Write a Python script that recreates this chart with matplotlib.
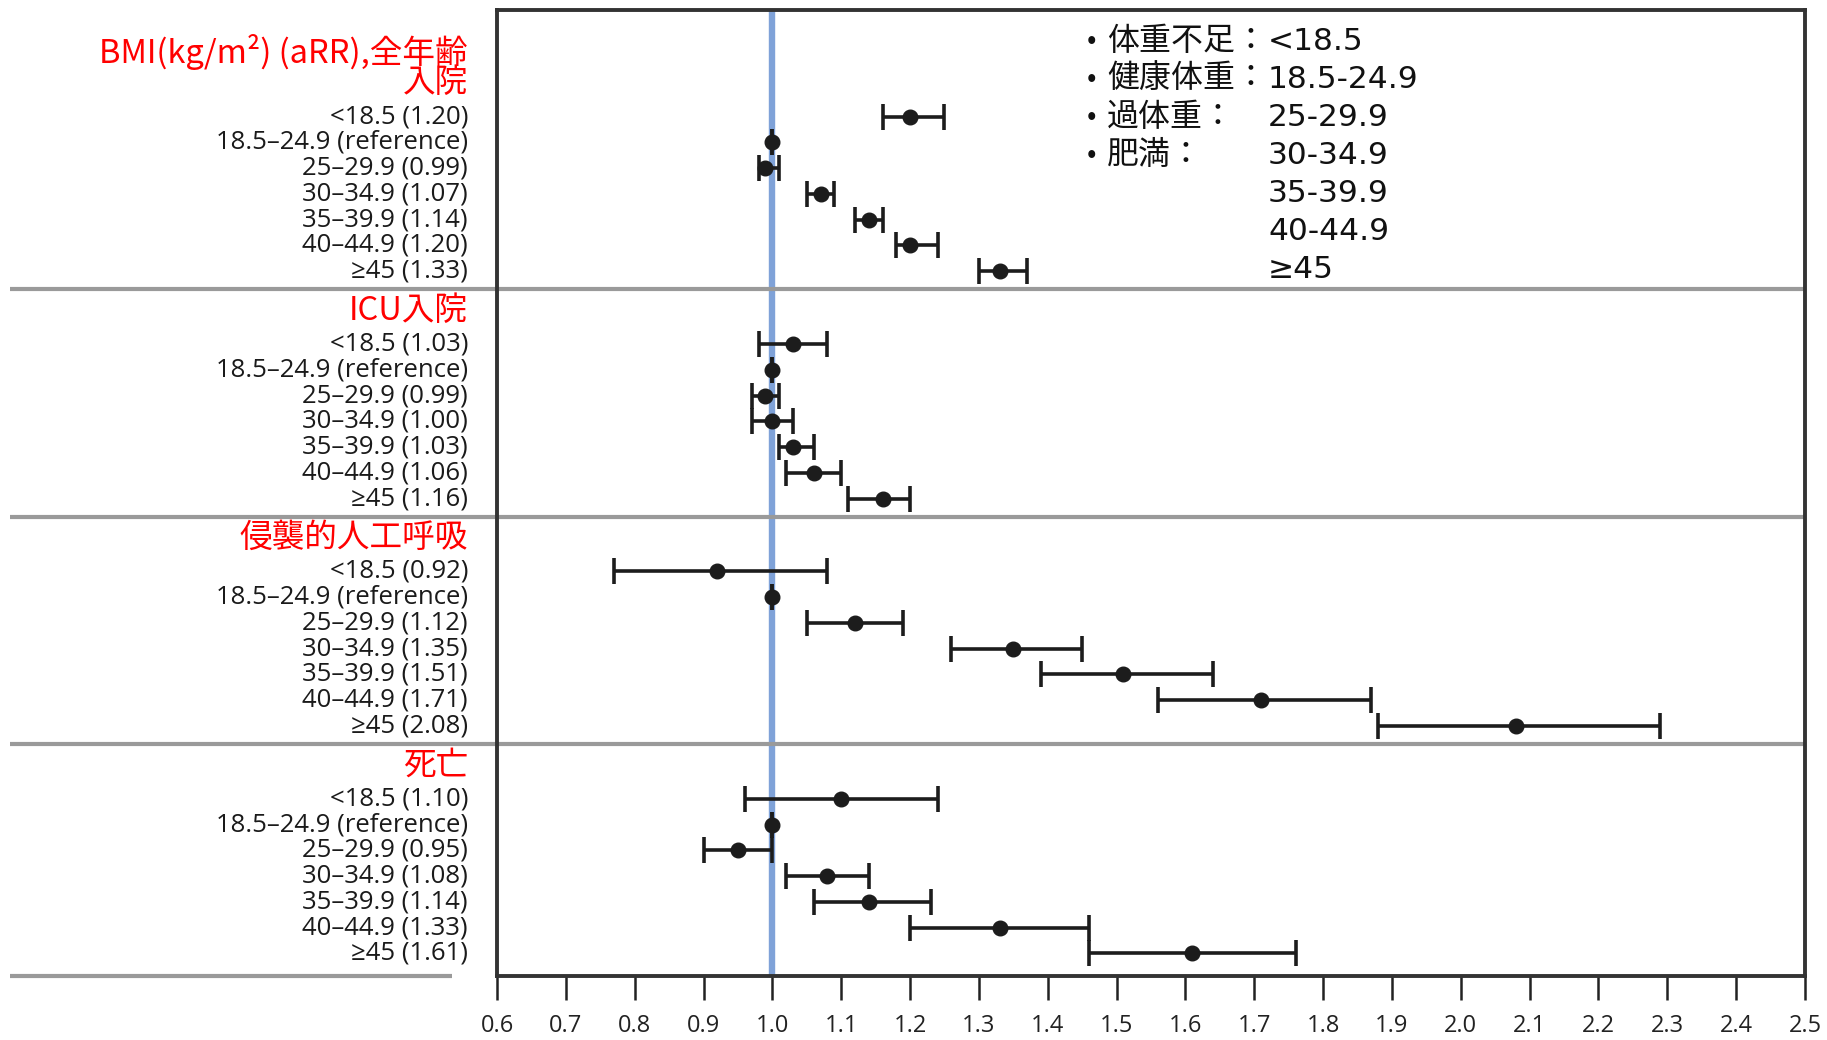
import numpy as np
import matplotlib
matplotlib.use("Agg")
import matplotlib.pyplot as plt
import matplotlib.transforms as mtrans

# ---- data -------------------------------------------------------------
bmi_groups = ["<18.5", "18.5–24.9", "25–29.9", "30–34.9", "35–39.9", "40–44.9", "≥45"]
reference_index = 1

outcome_titles = [["BMI(kg/m²) (aRR),全年齢", "入院"], ["ICU入院"], ["侵襲的人工呼吸"], ["死亡"]]

hosp_rr = [1.20, 1.00, 0.99, 1.07, 1.14, 1.20, 1.33]
hosp_lo = [1.16, 1.00, 0.98, 1.05, 1.12, 1.18, 1.30]
hosp_hi = [1.25, 1.00, 1.01, 1.09, 1.16, 1.24, 1.37]

icu_rr = [1.03, 1.00, 0.99, 1.00, 1.03, 1.06, 1.16]
icu_lo = [0.98, 1.00, 0.97, 0.97, 1.01, 1.02, 1.11]
icu_hi = [1.08, 1.00, 1.01, 1.03, 1.06, 1.10, 1.20]

imv_rr = [0.92, 1.00, 1.12, 1.35, 1.51, 1.71, 2.08]
imv_lo = [0.77, 1.00, 1.05, 1.26, 1.39, 1.56, 1.88]
imv_hi = [1.08, 1.00, 1.19, 1.45, 1.64, 1.87, 2.29]

death_rr = [1.10, 1.00, 0.95, 1.08, 1.14, 1.33, 1.61]
death_lo = [0.96, 1.00, 0.90, 1.02, 1.06, 1.20, 1.46]
death_hi = [1.24, 1.00, 1.00, 1.14, 1.23, 1.46, 1.76]

x_ticks = [0.6, 0.7, 0.8, 0.9, 1.0, 1.1, 1.2, 1.3, 1.4, 1.5, 1.6, 1.7, 1.8, 1.9,
           2.0, 2.1, 2.2, 2.3, 2.4, 2.5]

legend_names = ["体重不足", "健康体重", "過体重", "肥満"]
legend_ranges = ["<18.5", "18.5-24.9", "25-29.9", "30-34.9", "35-39.9", "40-44.9", "≥45"]

# ---- fonts ------------------------------------------------------------
cjk = ["Noto Sans CJK JP", "DejaVu Sans"]
label_font = ["Open Sans", "DejaVu Sans"]
number_font = ["DejaVu Sans"]

# ---- layout -----------------------------------------------------------
W, H = 1827, 1040
fig = plt.figure(figsize=(W / 100, H / 100), dpi=100)
ax = fig.add_axes([497 / W, 1 - 976 / H, (1805 - 497) / W, (976 - 10) / H])

y_bottom = 37.51
block_pitch = 8.83
first_row0 = 4.14
label_x = 468 / W

blend = mtrans.blended_transform_factory(fig.transFigure, ax.transData)

ax.axvline(1.0, color="#7fa2d8", lw=4.6, zorder=1)

sections = [
    (hosp_rr, hosp_lo, hosp_hi),
    (icu_rr, icu_lo, icu_hi),
    (imv_rr, imv_lo, imv_hi),
    (death_rr, death_lo, death_hi),
]

for k, ((rr, lo, hi), title) in enumerate(zip(sections, outcome_titles)):
    first = first_row0 + k * block_pitch
    ys = first + np.arange(len(bmi_groups))
    rr = np.asarray(rr)
    err = [rr - np.asarray(lo), np.asarray(hi) - rr]
    ax.errorbar(rr, ys, xerr=err, fmt="o", color="#1c1c1c", ms=10.5,
                elinewidth=2.6, capsize=9.5, capthick=2.6, zorder=3)

    # row labels
    for i, (g, v, y) in enumerate(zip(bmi_groups, rr, ys)):
        txt = f"{g} (reference)" if i == reference_index else f"{g} ({v:.2f})"
        ax.text(label_x, y, txt, transform=blend, ha="right", va="center",
                fontsize=18.5, color="#1a1a1a", family=label_font,
                fontweight="medium")

    # section title (last line sits just above the first row)
    for j, line in enumerate(reversed(title)):
        ax.text(label_x, first - 1.3 - j * 1.2, line, transform=blend,
                ha="right", va="center", fontsize=23.5, color="#ff0000",
                family=cjk)

    # separator under the block
    sep_y = first + 6.7 if k < len(sections) - 1 else y_bottom
    x_end = 0.988 if k < len(sections) - 1 else 452 / W
    ax.plot([10 / W, x_end], [sep_y, sep_y], transform=blend, color="#9a9a9a",
            lw=3, clip_on=False, zorder=2, solid_capstyle="butt")

# ---- legend block in the upper right ---------------------------------
line_y = [41, 79, 117, 155, 193, 231, 269]
for i, name in enumerate(legend_names):
    fy = 1 - line_y[i] / H
    fig.text(1092 / W, fy, "•", ha="center", va="center", fontsize=20,
             color="#111111", family=cjk)
    fig.text(1107 / W, fy, name + "：", ha="left", va="center", fontsize=23,
             color="#111111", family=cjk)
for i, r in enumerate(legend_ranges):
    fy = 1 - line_y[i] / H
    fig.text(1268 / W, fy, r, ha="left", va="center", fontsize=22.5,
             color="#111111", family=number_font)

# ---- axes styling -----------------------------------------------------
ax.set_xlim(0.6, 2.5)
ax.set_ylim(y_bottom, 0)
ax.set_xticks(x_ticks)
ax.set_xticklabels([f"{v:.1f}" for v in x_ticks], family=label_font,
                   fontweight="medium")
ax.set_yticks([])
ax.tick_params(axis="x", length=17, width=1.8, pad=10, labelsize=17,
               colors="#222222")
for s in ax.spines.values():
    s.set_color("#333333")
    s.set_linewidth(2.8)

fig.savefig("out.png", dpi=100, facecolor="white")
